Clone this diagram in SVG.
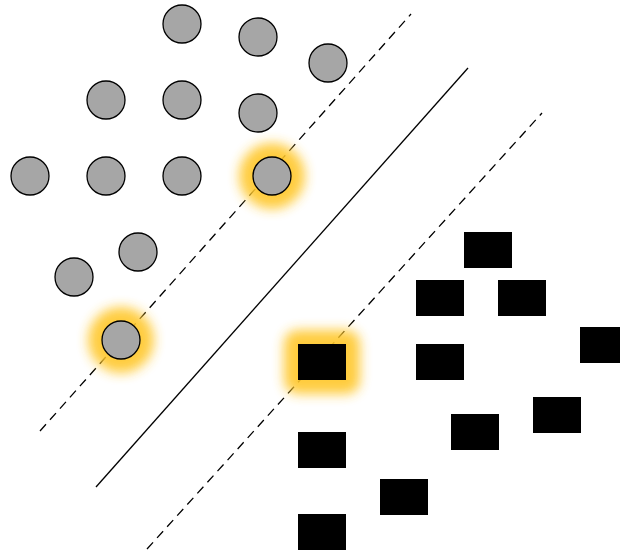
<svg xmlns="http://www.w3.org/2000/svg" width="620" height="557" viewBox="0 0 620 557">
<style>
.c{fill:#a6a6a6;stroke:#000;stroke-width:1.3}
.r{fill:#000}
.ln{stroke:#000;stroke-width:1.3;fill:none}
.d{stroke-dasharray:9 6}
.g{fill:#ffc72c;opacity:0.9;filter:url(#blur)}
</style>
<defs>
<filter id="blur" x="-50%" y="-50%" width="200%" height="200%"><feGaussianBlur stdDeviation="6"/></filter>
</defs>
<rect width="620" height="557" fill="#fff"/>
<g id="connectors">
<line class="ln d" x1="40" y1="431" x2="411" y2="14"/>
<line class="ln" x1="96" y1="487" x2="468" y2="68"/>
<line class="ln d" x1="147" y1="549" x2="542" y2="113"/>
</g>
<g id="c1"><circle class="c" cx="182" cy="24" r="19"/></g>
<g id="c2"><circle class="c" cx="258" cy="37" r="19"/></g>
<g id="c3"><circle class="c" cx="328" cy="63" r="19"/></g>
<g id="c4"><circle class="c" cx="106" cy="100" r="19"/></g>
<g id="c5"><circle class="c" cx="182" cy="100" r="19"/></g>
<g id="c6"><circle class="c" cx="258" cy="113" r="19"/></g>
<g id="c7"><circle class="c" cx="30" cy="176" r="19"/></g>
<g id="c8"><circle class="c" cx="106" cy="176" r="19"/></g>
<g id="c9"><circle class="c" cx="182" cy="176" r="19"/></g>
<g id="c10"><circle class="g" cx="272" cy="176" r="33"/><circle class="c" cx="272" cy="176" r="19"/></g>
<g id="c11"><circle class="c" cx="138" cy="252" r="19"/></g>
<g id="c12"><circle class="c" cx="74" cy="277" r="19"/></g>
<g id="c13"><circle class="g" cx="121" cy="340" r="33"/><circle class="c" cx="121" cy="340" r="19"/></g>
<g id="s1"><rect class="r" x="464" y="232" width="48" height="36"/></g>
<g id="s2"><rect class="r" x="416" y="280" width="48" height="36"/></g>
<g id="s3"><rect class="r" x="498" y="280" width="48" height="36"/></g>
<g id="s4"><rect class="r" x="580" y="327" width="48" height="36"/></g>
<g id="s5"><rect class="g" x="284" y="330" width="76" height="64" rx="14"/><rect class="r" x="298" y="344" width="48" height="36"/></g>
<g id="s6"><rect class="r" x="416" y="344" width="48" height="36"/></g>
<g id="s7"><rect class="r" x="533" y="397" width="48" height="36"/></g>
<g id="s8"><rect class="r" x="451" y="414" width="48" height="36"/></g>
<g id="s9"><rect class="r" x="298" y="432" width="48" height="36"/></g>
<g id="s10"><rect class="r" x="380" y="479" width="48" height="36"/></g>
<g id="s11"><rect class="r" x="298" y="514" width="48" height="36"/></g>
</svg>
